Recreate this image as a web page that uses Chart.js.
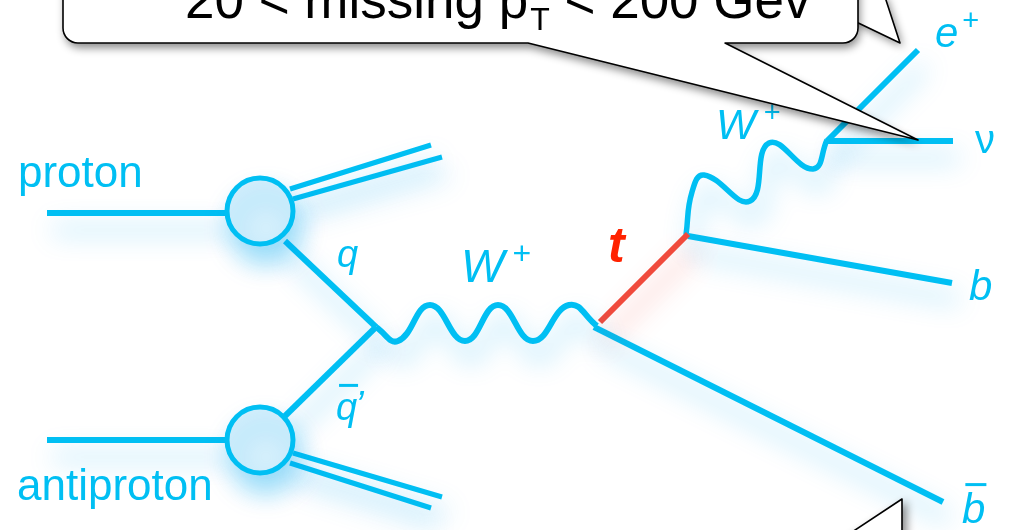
<!DOCTYPE html>
<html>
<head>
<meta charset="utf-8">
<script src="https://cdn.jsdelivr.net/npm/chart.js@4.4.1/dist/chart.umd.min.js"></script>
<style>
  html, body { margin: 0; padding: 0; background: #fff; overflow: hidden; }
  canvas { display: block; }
</style>
</head>
<body>
<canvas id="chart" width="1009" height="530"></canvas>
<script>
'use strict';

// Diagram points, in pixels (x to the right, y down).
const blobs = [[260, 211], [260, 440]];
const protonLine = [[47, 213], [228, 213]];
const antiprotonLine = [[47, 440], [228, 440]];
const remnantTopA = [[290, 189], [431, 145]];
const remnantTopB = [[293, 199], [442, 157]];
const remnantBotA = [[293, 453], [442, 497]];
const remnantBotB = [[290, 463], [431, 508]];
const quarkLine = [[285, 241], [376, 327]];
const antiquarkLine = [[376, 327], [285, 416]];
const wBoson = [[376, 327], [398, 341], [430, 305], [465, 341], [498, 305], [533, 341], [569, 305], [597, 326]];
const topQuark = [[600, 322], [688, 234]];
const bLine = [[688, 236], [952, 283]];
const bbarLine = [[594, 327], [943, 502]];
const wDecay = [[686, 235], [692, 192], [704, 175], [750, 201], [769, 143], [813, 169], [827, 140]];
const nuLine = [[827, 141], [953, 141]];
const positronLine = [[827, 141], [918, 50]];

// Labels: text, left x, baseline y.
const labels = [
  ['proton', 18, 187],
  ['antiproton', 17, 500],
  ['q', 337, 267],
  ['q\u0304\u2032', 336, 420],
  ['W+', 461, 282],
  ['t', 608, 262],
  ['W+', 716, 139],
  ['e+', 935, 47],
  ['\u03bd', 975, 153],
  ['b', 969, 300],
  ['b\u0304', 962, 523],
];
const cutText = ['20 < missing p', 'T', ' < 200 Gev'];

const CYAN = '#00bff3';
const xy = pts => pts.map(p => ({ x: p[0], y: p[1] }));

function line(pts, opts) {
  return Object.assign({
    data: xy(pts),
    showLine: true,
    borderColor: CYAN,
    borderWidth: 6,
    pointRadius: 0,
    tension: 0,
  }, opts || {});
}

const datasets = [
  {
    data: xy(blobs),
    showLine: false,
    pointRadius: 33,
    pointBorderWidth: 5,
    pointBackgroundColor: '#d6f0fc',
    pointBorderColor: CYAN,
  },
  line(protonLine),
  line(antiprotonLine),
  line(remnantTopA, { borderWidth: 5 }),
  line(remnantTopB, { borderWidth: 5 }),
  line(remnantBotA, { borderWidth: 5 }),
  line(remnantBotB, { borderWidth: 5 }),
  line(quarkLine),
  line(antiquarkLine),
  line(wBoson, { tension: 0.45 }),
  line(topQuark, { borderColor: '#f04a3c', glow: 'rgba(245,90,80,0.45)' }),
  line(bLine),
  line(bbarLine),
  line(wDecay, { tension: 0.45, borderWidth: 5.5 }),
  line(nuLine),
  line(positronLine),
];

// Soft blue halo under every stroke.
const glow = {
  id: 'glow',
  beforeDatasetDraw(chart, args) {
    const ds = chart.data.datasets[args.index];
    const ctx = chart.ctx;
    ctx.save();
    ctx.shadowColor = ds.glow || 'rgba(0,170,240,0.42)';
    ctx.shadowBlur = 26;
    ctx.shadowOffsetX = 6;
    ctx.shadowOffsetY = 17;
  },
  afterDatasetDraw(chart) {
    chart.ctx.restore();
  },
};

const FONT = '"Liberation Sans", Arial, Helvetica, sans-serif';
const labelFont = [
  '44px', '44px', 'italic 38px', 'italic 38px', 'italic 46px', 'italic bold 50px',
  'italic 42px', 'italic 42px', '40px', 'italic 42px', 'italic 42px',
];

function drawLabel(ctx, sx, sy, i) {
  let [text, x, y] = labels[i];
  x = sx.getPixelForValue(x);
  y = sy.getPixelForValue(y);
  const size = parseFloat(labelFont[i].match(/(\d+)px/)[1]);
  ctx.fillStyle = text == 't' ? '#ff2200' : CYAN;
  ctx.font = labelFont[i] + ' ' + FONT;
  let base = text;
  let sup = '';
  let bar = false;
  let prime = '';
  if (text.endsWith('+')) { base = text.slice(0, -1); sup = '+'; }
  if (base.includes('\u2032')) { prime = '\u2032'; base = base.replace('\u2032', ''); }
  if (base.includes('\u0304')) { bar = true; base = base.replace('\u0304', ''); }
  ctx.fillText(base, x, y);
  const w = ctx.measureText(base).width;
  if (bar) {
    ctx.fillRect(x + size * 0.08, y - size * 0.95, w * 0.9, 3);
  }
  if (prime) {
    ctx.fillText('\u2019', x + w - 2, y - 2);
  }
  if (sup) {
    ctx.font = Math.round(size * 0.7) + 'px ' + FONT;
    ctx.fillText(sup, x + w + (base == 'W' ? 8 : 4), y - size * 0.4);
  }
}

function bubble(ctx, path, shadow) {
  ctx.save();
  ctx.beginPath();
  path(ctx);
  ctx.closePath();
  ctx.shadowColor = 'rgba(0,0,0,0.45)';
  ctx.shadowBlur = 9;
  ctx.shadowOffsetX = shadow[0];
  ctx.shadowOffsetY = shadow[1];
  ctx.fillStyle = '#fff';
  ctx.fill();
  ctx.restore();
  ctx.save();
  ctx.beginPath();
  path(ctx);
  ctx.closePath();
  ctx.strokeStyle = '#000';
  ctx.lineWidth = 1.6;
  ctx.lineJoin = 'round';
  ctx.stroke();
  ctx.restore();
}

const overlay = {
  id: 'overlay',
  afterDraw(chart) {
    const ctx = chart.ctx;
    const sx = chart.scales.x;
    const sy = chart.scales.y;
    ctx.save();
    ctx.textBaseline = 'alphabetic';
    ctx.textAlign = 'left';
    for (let i = 0; i < labels.length; i++) drawLabel(ctx, sx, sy, i);
    ctx.restore();

    // Tail of a second speech bubble peeking in at the top right.
    bubble(ctx, c => {
      c.moveTo(850, -6);
      c.lineTo(884, -6);
      c.lineTo(900, 43);
      c.lineTo(850, 19);
    }, [3, 4]);

    // Main speech bubble with its tail pointing at the neutrino.
    bubble(ctx, c => {
      c.moveTo(63, -30);
      c.lineTo(63, 28);
      c.arcTo(63, 43, 78, 43, 15);
      c.lineTo(528, 43);
      c.lineTo(918, 140);
      c.lineTo(725, 43);
      c.lineTo(843, 43);
      c.arcTo(858, 43, 858, 28, 15);
      c.lineTo(858, -30);
    }, [2, 5]);

    // Bubble tail rising from below toward the b-bar.
    bubble(ctx, c => {
      c.moveTo(840, 540);
      c.lineTo(902, 499);
      c.lineTo(902, 540);
    }, [5, 2]);

    ctx.save();
    ctx.fillStyle = '#000';
    ctx.font = '53px ' + FONT;
    let x = 185;
    ctx.fillText(cutText[0], x, 18);
    x += ctx.measureText(cutText[0]).width + 2;
    ctx.font = '32px ' + FONT;
    ctx.fillText(cutText[1], x, 30);
    x += ctx.measureText(cutText[1]).width;
    ctx.font = '53px ' + FONT;
    ctx.fillText(cutText[2], x, 18);
    ctx.restore();
  },
};

new Chart(document.getElementById('chart'), {
  type: 'scatter',
  data: { datasets: datasets },
  options: {
    responsive: false,
    animation: false,
    events: [],
    layout: { padding: 0, autoPadding: false },
    plugins: { legend: { display: false }, tooltip: { enabled: false } },
    scales: {
      x: { type: 'linear', min: 0, max: 1009, display: false },
      y: { type: 'linear', min: 0, max: 530, reverse: true, display: false },
    },
  },
  plugins: [glow, overlay],
});
</script>
</body>
</html>
